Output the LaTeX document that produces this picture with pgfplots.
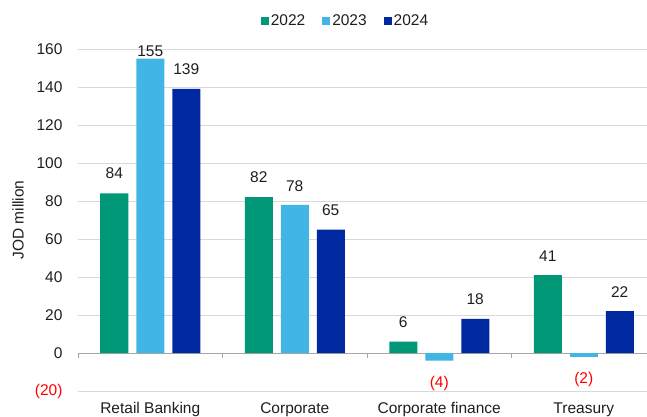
\documentclass[border=0pt]{standalone}
\usepackage{fontspec}
\setmainfont{Liberation Sans}
\usepackage{pgfplots}
\pgfplotsset{compat=1.18}
\definecolor{cA}{RGB}{0,152,118}
\definecolor{cB}{RGB}{65,182,230}
\definecolor{cC}{RGB}{0,40,160}
\definecolor{txt}{RGB}{30,30,30}
\definecolor{gridc}{RGB}{217,217,217}
\definecolor{zeroc}{RGB}{166,166,166}
\begin{document}
\begin{tikzpicture}[font=\fontsize{15.5bp}{18bp}\selectfont]
\begin{axis}[
  at={(78bp,-49bp)}, anchor=north west,
  scale only axis, width=578bp, height=342bp,
  xmin=-0.5, xmax=3.5, ymin=-20, ymax=160,
  ytick={-20,0,20,...,160},
  yticklabels={\textcolor{red}{(20)},0,20,40,60,80,100,120,140,160},
  xtick={0,1,2,3},
  xticklabels={Retail Banking,Corporate,Corporate finance,Treasury},
  major tick length=0pt,
  axis line style={draw=none},
  ymajorgrids, grid style={gridc, line width=0.75bp},
  yticklabel style={text=txt, xshift=-12bp},
  xticklabel style={text=txt, yshift=-8bp},
  ylabel={JOD million},
  every axis y label/.style={at={(axis description cs:-0.1038,0.5)}, rotate=90, anchor=center, text=txt},
  clip=false,
  legend columns=3,
  legend style={at={(0.4628,1.0819)}, anchor=center, draw=none, fill=none, text=txt,
    /tikz/every even column/.append style={column sep=15bp}},
  legend image code/.code={\fill[#1] (0bp,-4bp) rectangle (8bp,4bp);},
]
\draw[zeroc, line width=0.75bp] (axis cs:-0.5,0) -- (axis cs:3.5,0);
\pgfplotsinvokeforeach{-0.5,0.5,1.5,2.5,3.5}{\draw[zeroc, line width=0.75bp] (axis cs:#1,0) -- ([yshift=-5bp]axis cs:#1,0);}
\addplot[ybar, bar width=28bp, bar shift=-36bp, fill=cA, draw=none] coordinates {(0,84) (1,82) (2,6) (3,41)};
\addlegendentry{2022}
\addplot[ybar, bar width=28bp, bar shift=0bp, fill=cB, draw=none] coordinates {(0,155) (1,78) (2,-4) (3,-2)};
\addlegendentry{2023}
\addplot[ybar, bar width=28bp, bar shift=36bp, fill=cC, draw=none] coordinates {(0,139) (1,65) (2,18) (3,22)};
\addlegendentry{2024}
% data labels
\addplot[forget plot, only marks, mark=*, mark size=0pt, mark options={draw=none, fill=none},
  nodes near coords, point meta=explicit symbolic,
  nodes near coords style={anchor=center, text=txt}] coordinates {
  (-0.249,94.5) [84] (0.751,92.5) [82] (1.751,16) [6] (2.751,51) [41]
  (0,158.9) [155] (1,88) [78]
  (0.249,149.5) [139] (1.249,75) [65] (2.249,28.3) [18] (3.249,31.8) [22]
};
\addplot[forget plot, only marks, mark=*, mark size=0pt, mark options={draw=none, fill=none},
  nodes near coords, point meta=explicit symbolic,
  nodes near coords style={anchor=center, text=red}] coordinates {
  (2,-16.3) [(4)] (3,-14.2) [(2)]
};
\end{axis}
\pgfresetboundingbox
\useasboundingbox (0,0) rectangle (647bp,-417bp);
\end{tikzpicture}
\end{document}
